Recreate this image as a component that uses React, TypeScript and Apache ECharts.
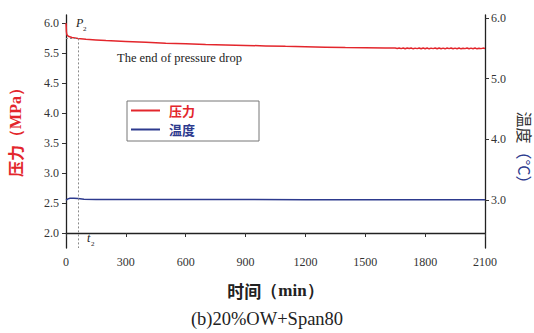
import React, { useEffect, useRef } from "react";
import * as echarts from "echarts";

// Pressure (MPa) over time (min)
const pressTime = [
  0, 1, 2, 4, 8, 15, 30, 60, 100, 150, 200, 300, 400, 500, 600, 700, 800, 900,
  1000, 1100, 1200, 1300, 1400, 1500, 1600, 1650,
  1660, 1670, 1680, 1690, 1700, 1710, 1720, 1730, 1740, 1750, 1760, 1770, 1780,
  1790, 1800, 1810, 1820, 1830, 1840, 1850, 1860, 1870, 1880, 1890, 1900, 1910,
  1920, 1930, 1940, 1950, 1960, 1970, 1980, 1990, 2000, 2010, 2020, 2030, 2040,
  2050, 2060, 2070, 2080, 2090, 2100,
];
const pressValue = [
  6.0, 5.95, 5.86, 5.81, 5.79, 5.775, 5.76, 5.745, 5.73, 5.72, 5.71, 5.695,
  5.68, 5.665, 5.655, 5.645, 5.636, 5.628, 5.62, 5.612, 5.605, 5.599, 5.593,
  5.589, 5.585, 5.583,
  5.576, 5.586, 5.574, 5.585, 5.572, 5.584, 5.575, 5.586, 5.571, 5.583, 5.574,
  5.585, 5.572, 5.584, 5.573, 5.585, 5.571, 5.583, 5.574, 5.584, 5.572, 5.585,
  5.573, 5.583, 5.571, 5.584, 5.574, 5.585, 5.572, 5.583, 5.573, 5.584, 5.571,
  5.582, 5.574, 5.584, 5.572, 5.583, 5.573, 5.584, 5.571, 5.582, 5.574, 5.583,
  5.576,
];

// Temperature (°C) over time (min)
const tempTime = [0, 10, 20, 40, 60, 90, 150, 300, 600, 900, 1200, 1500, 1800, 2100];
const tempValue = [3.0, 3.02, 3.03, 3.03, 3.025, 3.015, 3.01, 3.01, 3.008, 3.008, 3.006, 3.006, 3.005, 3.005];

// Left axis tick labels, bottom to top, as printed on the axis
const leftTickLabels = ["2.0", "2.5", "3.0", "3.5", "4.0", "4.5", "5.5", "6.0"];
const rightTickValues = [3, 4, 5, 6];
const xTickValues = [0, 300, 600, 900, 1200, 1500, 1800, 2100];

// End of the pressure drop
const dropEndTime = 60;
const dropEndPressure = 5.745;

const RED = "#e3262c";
const BLUE = "#2d3a8e";
const SERIF = "'Liberation Serif', 'DejaVu Serif', serif";
const CJK = "'Noto Sans CJK SC', sans-serif";

// The left axis is evenly spaced by tick index; map a pressure onto that index
const leftTickNums = leftTickLabels.map(Number);
function pressToPos(p: number): number {
  for (let i = 0; i < leftTickNums.length - 1; i++) {
    const a = leftTickNums[i];
    const b = leftTickNums[i + 1];
    if (p <= b || i === leftTickNums.length - 2) {
      return i + (p - a) / (b - a);
    }
  }
  return 0;
}

export default function App() {
  const ref = useRef<HTMLDivElement>(null);

  useEffect(() => {
    if (!ref.current) return;
    document.body.style.margin = "0";
    const chart = echarts.init(ref.current, null, { renderer: "svg" });
    const dropPos = pressToPos(dropEndPressure);

    chart.setOption({
      animation: false,
      backgroundColor: "#ffffff",
      grid: { left: 66, right: 49, top: 15, bottom: 85, outerBoundsMode: "none" },
      legend: {
        orient: "vertical",
        left: 127,
        top: 101,
        width: 130,
        padding: [3, 64, 5, 4],
        itemGap: 6,
        itemWidth: 29,
        itemHeight: 2,
        icon: "rect",
        borderColor: "#777",
        borderWidth: 1,
        backgroundColor: "#fff",
        data: [
          { name: "压力", textStyle: { color: RED } },
          { name: "温度", textStyle: { color: BLUE } },
        ],
        textStyle: { fontFamily: CJK, fontSize: 13, fontWeight: "bold", padding: [0, 0, 0, 4] },
      },
      xAxis: {
        type: "value",
        min: 0,
        max: 2100,
        axisLine: { lineStyle: { color: "#222", width: 1.3 } },
        axisTick: { inside: false, length: 4, customValues: xTickValues, lineStyle: { color: "#333" } },
        axisLabel: {
          customValues: xTickValues,
          formatter: (v: number) => String(v),
          color: "#333",
          fontFamily: SERIF,
          fontSize: 12,
          margin: 8,
        },
        splitLine: { show: false },
        name: "{a|时间}{b|（min）}",
        nameLocation: "middle",
        nameGap: 34,
        nameTextStyle: {
          rich: {
            a: { fontFamily: CJK, fontSize: 17, fontWeight: "bold", color: "#222" },
            b: { fontFamily: SERIF, fontSize: 17, fontWeight: "bold", color: "#222" },
          },
        },
      },
      yAxis: [
        {
          type: "value",
          position: "left",
          min: -0.5,
          max: 7.27,
          axisLine: { show: true, lineStyle: { color: "#222", width: 1.3 } },
          axisTick: { show: true, inside: false, length: 4, customValues: leftTickLabels.map((_, i) => i), lineStyle: { color: "#333" } },
          axisLabel: {
            customValues: leftTickLabels.map((_, i) => i),
            formatter: (v: number) => leftTickLabels[Math.round(v)],
            color: "#333",
            fontFamily: SERIF,
            fontSize: 12,
            margin: 7,
          },
          splitLine: { show: false },
          name: "{a|压力}{b|（MPa）}",
          nameLocation: "middle",
          nameGap: 43,
          nameTextStyle: {
            padding: [0, 0, 0, 6],
            rich: {
              a: { fontFamily: CJK, fontSize: 16, fontWeight: "bold", color: RED },
              b: { fontFamily: SERIF, fontSize: 16, fontWeight: "bold", color: RED },
            },
          },
        },
        {
          type: "value",
          position: "right",
          min: 2.21,
          max: 6.05,
          axisLine: { show: true, lineStyle: { color: "#222", width: 1.3 } },
          axisTick: { show: true, inside: false, length: 4, customValues: rightTickValues, lineStyle: { color: "#333" } },
          axisLabel: {
            customValues: rightTickValues,
            formatter: (v: number) => v.toFixed(1),
            color: "#333",
            fontFamily: SERIF,
            fontSize: 12,
            margin: 6,
          },
          splitLine: { show: false },
          name: "{a|温度}{b|（°C）}",
          nameLocation: "middle",
          nameRotate: -90,
          nameGap: 27,
          nameTextStyle: {
            padding: [0, 0, 0, 40],
            rich: {
              a: { fontFamily: CJK, fontSize: 16, color: "#333" },
              b: { fontFamily: CJK, fontSize: 16, color: BLUE },
            },
          },
        },
      ],
      series: [
        {
          name: "压力",
          type: "line",
          yAxisIndex: 0,
          showSymbol: false,
          symbol: "none",
          color: RED,
          lineStyle: { color: RED, width: 1.5 },
          data: pressTime.map((t, i) => [t, pressToPos(pressValue[i])]),
          markLine: {
            silent: true,
            symbol: "none",
            label: { show: false },
            lineStyle: { color: "#8a8a8a", type: [2, 2], width: 1 },
            data: [
              [{ coord: [dropEndTime, dropPos] }, { coord: [dropEndTime, -0.5] }],
              [{ coord: [0, dropPos] }, { coord: [dropEndTime, dropPos] }],
            ],
          },
        },
        {
          name: "温度",
          type: "line",
          yAxisIndex: 1,
          showSymbol: false,
          symbol: "none",
          color: BLUE,
          lineStyle: { color: BLUE, width: 1.5 },
          data: tempTime.map((t, i) => [t, tempValue[i]]),
        },
      ],
      graphic: [
        { type: "text", left: 76, top: 17, style: { text: "P", font: `italic 12px ${SERIF}`, fill: "#222" } },
        { type: "text", left: 83, top: 25, style: { text: "2", font: `7px ${SERIF}`, fill: "#222" } },
        { type: "text", left: 87, top: 232, style: { text: "t", font: `italic 12px ${SERIF}`, fill: "#222" } },
        { type: "text", left: 91, top: 240, style: { text: "2", font: `7px ${SERIF}`, fill: "#222" } },
        { type: "text", left: 117, top: 51, style: { text: "The end of pressure drop", font: `12.5px ${SERIF}`, fill: "#222" } },
        {
          type: "text",
          left: "center",
          top: 309,
          style: { text: "(b)20%OW+Span80", font: `18.5px ${SERIF}`, fill: "#222" },
        },
      ],
    });

    return () => chart.dispose();
  }, []);

  return <div ref={ref} style={{ width: 534, height: 333 }} />;
}
